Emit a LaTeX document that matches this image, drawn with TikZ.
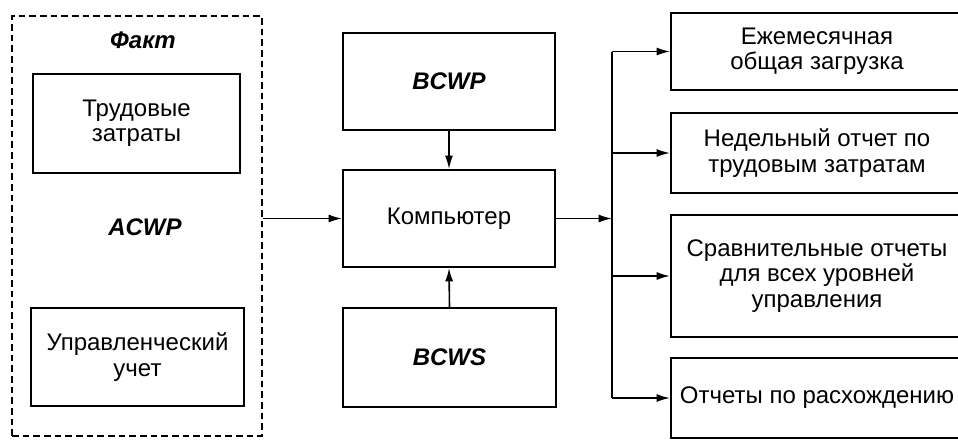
\documentclass[tikz,border=0pt]{standalone}
\usepackage{fontspec}
\setmainfont{Liberation Sans}
\usetikzlibrary{arrows.meta}
\begin{document}
\begin{tikzpicture}[x=0.75pt,y=-0.75pt,
  every node/.style={font=\fontsize{18}{19}\selectfont, align=center, inner sep=0pt},
  boxnode/.style={draw, line width=1.5pt},
  bi/.style={font=\fontsize{18}{19}\selectfont\bfseries\itshape},
  conn/.style={line width=1.2pt},
  arr/.style={conn, -{Latex[length=10pt,width=6pt]}}]
\useasboundingbox (0,0) rectangle (958,440);
\clip (0,0) rectangle (958,440);
% left dashed group
\node[draw, line width=1.2pt, dash pattern=on 5pt off 3pt, minimum width=187.5pt, minimum height=315pt] (fact) at (137,226) {};
\node[bi] (facttitle) at (143,40) {Факт};
\node[boxnode, minimum width=155.25pt, minimum height=74.25pt] (labor) at (136.5,123.5) {Трудовые\\затраты};
\node[bi] (acwp) at (145,227) {ACWP};
\node[boxnode, minimum width=159.75pt, minimum height=73.5pt] (mgmt) at (137.5,357) {Управленческий\\учет};
% middle
\node[boxnode, minimum width=159pt, minimum height=72.75pt, bi] (bcwp) at (449,81.5) {BCWP};
\node[boxnode, minimum width=159pt, minimum height=72.75pt] (comp) at (449,218.5) {Компьютер};
\node[boxnode, minimum width=159.75pt, minimum height=74.25pt, bi] (bcws) at (449.5,357.5) {BCWS};
% right
\node[boxnode, minimum width=219pt, minimum height=57.75pt] (r1) at (817,51.5) {Ежемесячная\\общая загрузка};
\node[boxnode, minimum width=219pt, minimum height=60pt] (r2) at (817,153) {Недельный отчет по\\трудовым затратам};
\node[boxnode, minimum width=219pt, minimum height=91.5pt] (r3) at (817,276) {Сравнительные отчеты\\для всех уровней\\управления};
\node[boxnode, minimum width=219pt, minimum height=60pt] (r4) at (817,398) {Отчеты по расхождению};
\coordinate (bus) at (612,218.5);
% connectors
\draw[arr] (fact.east |- comp.west) -- (comp.west);
\draw[arr] (bcwp.south) -- (comp.north);
\draw[arr] (bcws.north) -- (comp.south);
\draw[arr] (comp.east) -- (bus);
\draw[conn] (bus |- r1.west) -- (bus |- r4.west);
\draw[arr] (bus |- r1.west) -- (r1.west);
\draw[arr] (bus |- r2.west) -- (r2.west);
\draw[arr] (bus |- r3.west) -- (r3.west);
\draw[arr] (bus |- r4.west) -- (r4.west);
\end{tikzpicture}
\end{document}
